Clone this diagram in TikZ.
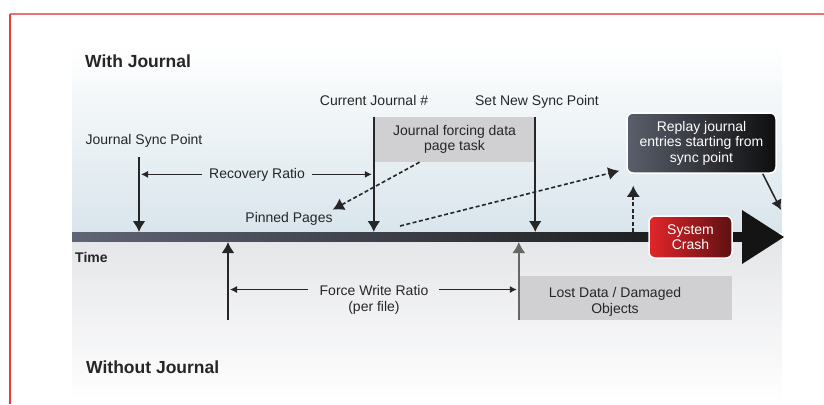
\documentclass[tikz,border=0pt]{standalone}
\usepackage{fontspec}
\setmainfont{Liberation Sans}
\usepackage{tikz}
\usetikzlibrary{arrows.meta,positioning}
\tikzset{>={Latex[length=11pt,width=13pt]}}
\usepackage{xcolor}
\definecolor{labelgrey}{HTML}{262626}
\definecolor{skyback}{HTML}{D9E5EC}
\definecolor{floorback}{HTML}{E5E6E9}
\definecolor{axisleft}{HTML}{5F6575}
\definecolor{axisright}{HTML}{141414}
\definecolor{boxgrey}{HTML}{D0D0D2}
\definecolor{replayleft}{HTML}{5A5F6B}
\definecolor{replayright}{HTML}{0E0E0E}
\definecolor{crashleft}{HTML}{E3262A}
\definecolor{crashright}{HTML}{5E1012}
\definecolor{frametop}{HTML}{F07070}
\definecolor{frameleft}{HTML}{F03A3A}
\tikzstyle{lbl} = [text=labelgrey, font=\fontsize{14}{15.5}\selectfont, inner sep=0pt, align=center]
\tikzstyle{heading} = [text=labelgrey, font=\fontsize{17.5}{20}\selectfont\bfseries, inner sep=0pt, anchor=base west]
\tikzstyle{greybox} = [fill=boxgrey, inner sep=0pt]
\tikzstyle{tickarrow} = [line width=2pt, ->, draw=labelgrey]
\tikzstyle{ratio} = [line width=1pt, ->, draw=labelgrey, >={Latex[length=7pt,width=7pt]}]
\tikzstyle{dasharrow} = [line width=1.6pt, dash pattern=on 4pt off 2.5pt, ->, draw=labelgrey]
\tikzstyle{darkbox} = [rounded corners=6pt, draw=white, line width=1.5pt, text=white, font=\fontsize{14}{15.5}\selectfont, align=center, inner sep=0pt]

\begin{document}
\begin{tikzpicture}[x=1pt,y=-1pt]
    \useasboundingbox (0,0) rectangle (824,404);
    % panel and frame
    \shade[top color=white, bottom color=skyback] (72,43) rectangle (782,232);
    \shade[top color=floorback, bottom color=white] (72,240) rectangle (782,404);
    \draw[line width=1.2pt, frametop] (10,14) -- (824,14);
    \draw[line width=1.2pt, frameleft] (10,14) -- (10,404);
    % time axis
    \shade[left color=axisleft, right color=axisright] (72,232) rectangle (744,241);
    \fill[axisright] (742,210) -- (784,237) -- (742,264) -- cycle;
    \coordinate (axis) at (72,232);

    \node[heading](with) at (85,67) {With Journal};
    \node[heading](without) at (86,373) {Without Journal};
    \node[heading, font=\fontsize{14}{16}\selectfont\bfseries](time) at (75,262) {Time};

    \node[lbl, anchor=base](syncpt) at (144,144) {Journal Sync Point};
    \node[lbl, anchor=base](recov) at (257,178) {Recovery Ratio};
    \node[lbl, anchor=base](curj) at (374,105) {Current Journal \#};
    \node[lbl, anchor=base](newsync) at (537,105) {Set New Sync Point};
    \node[lbl, anchor=base](pinned) at (289,222) {Pinned Pages};

    \node[greybox, minimum width=161pt, minimum height=45pt, lbl](task) at (454.5,139.5) {Journal forcing data\\page task};

    \node[darkbox, left color=replayleft, right color=replayright, minimum width=149pt, minimum height=60pt](replay) at (701.5,143) {Replay journal\\entries starting from\\sync point};
    \node[darkbox, left color=crashleft, right color=crashright, minimum width=83pt, minimum height=42pt](crash) at (690.5,237) {System\\Crash};

    \node[greybox, minimum width=213pt, minimum height=44pt](lostbox) at (625.5,298) {};
    \node[lbl](lost) at (615,302) {Lost Data / Damaged\\Objects};
    \node[lbl](force) at (374,300) {Force Write Ratio\\(per file)};

    % with journal
    \coordinate (syncTop) at (139,157);
    \draw[tickarrow] (syncTop) -- (syncTop |- axis);
    \draw[tickarrow] (task.north west) -- (task.north west |- axis);
    \draw[tickarrow] (task.north east) -- (task.north east |- axis);
    \draw[ratio] ([xshift=-7pt]recov.west) -- ([xshift=2pt]syncTop |- recov.west);
    \draw[ratio] ([xshift=7pt]recov.east) -- ([xshift=-2pt]task.north west |- recov.east);
    \draw[dasharrow] ([xshift=-35pt]task.south) -- ([yshift=2pt]pinned.north east);
    \coordinate (lateStart) at (400,226);
    \draw[dasharrow] (lateStart) -- ([xshift=-7pt,yshift=3pt]replay.south west);
    \coordinate (replayUp) at ([xshift=7pt,yshift=-12pt]replay.south west);
    \draw[dasharrow] (replayUp |- axis) -- (replayUp);
    \coordinate (headTop) at (781,210);
    \draw[line width=1.5pt, ->, draw=labelgrey, >={Latex[length=10pt,width=11pt]}] ([xshift=-14pt]replay.south east) -- (headTop);

    % without journal
    \coordinate (forceBase) at (228,320);
    \coordinate (forceHit) at (228,242);
    \draw[tickarrow] (forceBase) -- (forceHit);
    \draw[tickarrow, line width=1.5pt, draw=black!60] (lostbox.south west) -- (lostbox.south west |- forceHit);
    \draw[ratio] ([xshift=-11pt,yshift=-4pt]force.north west) -- ([xshift=2pt,yshift=-4pt]forceHit |- force.north);
    \draw[ratio] ([xshift=10pt,yshift=-4pt]force.north east) -- ([xshift=-2pt,yshift=-4pt]lostbox.west |- force.north);
\end{tikzpicture}
\end{document}
